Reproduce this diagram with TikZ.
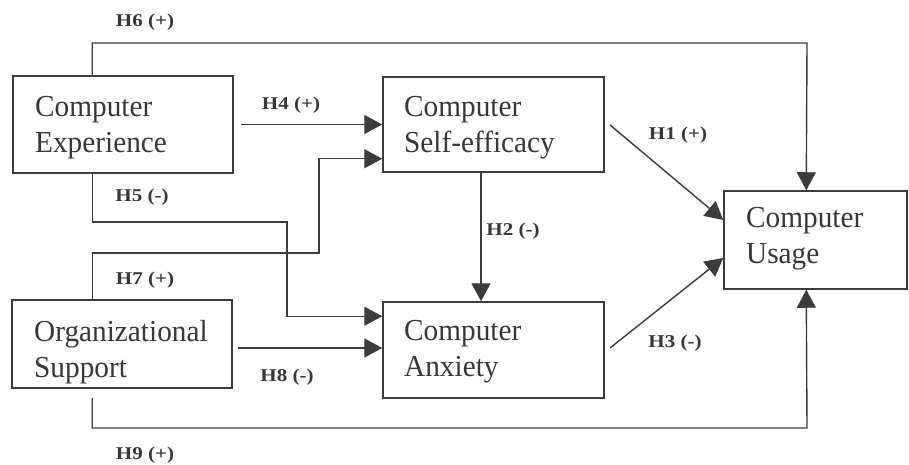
\documentclass[tikz,border=0pt]{standalone}
\usepackage{fontspec}
\setmainfont{Liberation Serif}[FakeStretch=0.96]
\newfontfamily\lblfont{Liberation Serif}[FakeStretch=1.17]
\usetikzlibrary{arrows.meta}
\definecolor{ln}{HTML}{3C3C3C}
\definecolor{tx}{HTML}{383838}
\tikzset{
  box/.style={draw=ln, line width=1.5pt, inner sep=0pt},
  txt/.style={align=left, inner sep=0pt, text=tx, font=\fontsize{30.5}{36}\selectfont, anchor=north west},
  lbl/.style={inner sep=0pt, text=tx, font=\lblfont\bfseries\fontsize{18}{20}\selectfont},
  arr/.style={draw=ln, line width=1.4pt, -{Triangle[length=18pt,width=19pt]}},
}
\begin{document}
\begin{tikzpicture}[x=1pt,y=-1pt]
\fill[white] (0,0) rectangle (909,465);
\useasboundingbox (0,0) rectangle (909,465);
% boxes
\node[box, minimum width=220pt, minimum height=97pt] (ce) at (123,124.5) {};
\node[box, minimum width=220pt, minimum height=88pt] (os) at (122,344) {};
\node[box, minimum width=221pt, minimum height=95pt] (se) at (493.5,124.5) {};
\node[box, minimum width=221pt, minimum height=96pt] (ca) at (493.5,350) {};
\node[box, minimum width=183pt, minimum height=98pt] (cu) at (815.5,240) {};
% box texts
\node[txt] (cet) at (35,96.3) {Computer\\Experience};
\node[txt] (ost) at (34,320.3) {Organizational\\Support};
\node[txt] (set) at (404,96.3) {Computer\\Self-efficacy};
\node[txt] (cat) at (404,320.3) {Computer\\Anxiety};
\node[txt] (cut) at (746,207.3) {Computer\\Usage};
% coordinates
\coordinate (h6) at (807,43);
\coordinate (h7) at (319,253);
\coordinate (h5) at (287,222);
\coordinate (h8) at (238,348);
\coordinate (h9) at (807,428);
\coordinate (h1) at (610,125);
\coordinate (h3) at (610,348);
% connectors
\draw[arr] ([xshift=80pt]ce.north west) |- (h6) -- ([xshift=83pt]cu.north west);
\draw[arr] ([xshift=7pt]ce.east) -- (se.west);
\draw[arr] ([xshift=81pt]os.north west) |- (h7) |- ([yshift=14pt]se.south west);
\draw[arr] ([xshift=80pt]ce.south west) |- (h5) |- ([yshift=-15pt]ca.north west);
\draw[arr] (h8) -- (h8 -| ca.west);
\draw[arr] ([xshift=81pt,yshift=-9pt]os.south west) |- (h9) -- ([xshift=83pt]cu.south west);
\draw[arr] (h1) -- ([yshift=20pt]cu.west);
\draw[arr] (h3) -- ([yshift=-18pt]cu.west);
\draw[arr] ([xshift=-12.5pt]se.south) -- ([xshift=-12.5pt]ca.north);
% labels
\node[lbl] (l6) at (145,22) {H6 (+)};
\node[lbl] (l4) at (291,105) {H4 (+)};
\node[lbl] (l5) at (142,197) {H5 (-)};
\node[lbl] (l7) at (145,280) {H7 (+)};
\node[lbl] (l8) at (287,377) {H8 (-)};
\node[lbl] (l9) at (145,455) {H9 (+)};
\node[lbl] (l1) at (678,135) {H1 (+)};
\node[lbl] (l2) at (513,231) {H2 (-)};
\node[lbl] (l3) at (675,343) {H3 (-)};
\end{tikzpicture}
\end{document}
